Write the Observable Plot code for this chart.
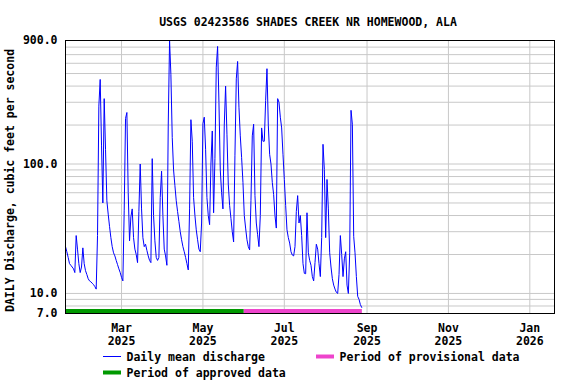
<!DOCTYPE html>
<html><head><meta charset="utf-8">
<script src="https://cdn.jsdelivr.net/npm/d3@7"></script>
<script src="https://cdn.jsdelivr.net/npm/@observablehq/plot@0.6"></script>
<style>
body{margin:0;background:#fff;}
#wrap{position:relative;width:576px;height:384px;}
#wrap svg{position:absolute;left:0;top:0;}
#overlay text{font-family:"DejaVu Sans Mono",monospace;font-weight:bold;font-size:11.5px;fill:#000;}
</style>
</head><body>
<div id="wrap"></div>
<script>
const title = "USGS 02423586 SHADES CREEK NR HOMEWOOD, ALA";
const yLabel = "DAILY Discharge, cubic feet per second";
const seriesLabel = "Daily mean discharge";
const firstDay = "2025-01-18";
const flow = [
23,21,19,17,16.5,16,15.5,14.5,28,22,
17,14.5,16,22.5,17,15,14,13,12.5,12.3,
12,11.7,11.3,10.8,28,280,450,140,50,320,
130,52,41,33,27,23,20.6,19.5,18,16.7,
15.5,14.5,13.3,12.5,44,225,250,60,25.5,39,
45,27,22,20,17.3,43,100,45,27,23,
24,21.5,19.5,18,17.3,110,40,25.5,19,18,
19,55,88,40,22,19.5,16.5,200,900,490,
160,90,68,52,43,36,30,26,23,21,
19,17,15.2,45,220,150,55,40,31,26,
22,21,35,205,230,130,55,40,34,100,
180,42,110,560,810,300,90,60,45,200,
400,170,70,48,38,30,25,117,455,620,
275,165,112,72,40,32,26,23,21.7,52,
165,203,57,35,28.4,23,40,190,150,150,
310,545,200,119,100,72,58,40,32,320,
300,230,190,119,76,48,31,27,24.5,21,
19.8,19.5,23,43,57,35,40,28,17,14.3,
14.2,42,20.6,18,16.5,13.5,12.5,17.3,24,22,
17,13.5,27,142,91,27,76,45,20.6,16,
13,11.6,10.8,10.2,10,14,28,20,13.5,18.5,
21,11.6,10,20.6,260,203,27.6,20.6,13.5,9.5,
9,8.2,7.8
];
const periodLabels = ["Period of approved data", "Period of provisional data"];
const periodStarts = ["2025-01-18", "2025-06-01"];
const periodEnds = ["2025-06-01", "2025-08-28T12:00"];
const periodColors = ["#009900", "#ee44cc"];
const xDomain = ["2025-01-18", "2026-01-19T12:00"];
const xTickDates = ["2025-03-01","2025-05-01","2025-07-01","2025-09-01","2025-11-01","2026-01-01"];
const yDomain = [7, 900];
const yTicks = [7, 10, 100, 900];
const yGrid = [8,9,10,20,30,40,50,60,70,80,90,100,200,300,400,500,600,700,800];

const toDate = s => new Date(s + (s.length > 10 ? "Z" : "T00:00Z"));
const d0 = toDate(firstDay);
const data = flow.map((v, i) => ({date: d3.utcDay.offset(d0, i), flow: v}));
const periods = periodLabels.map((l, i) => ({label: l, start: toDate(periodStarts[i]), end: toDate(periodEnds[i]), color: periodColors[i]}));
const xTicks = xTickDates.map(toDate);

const chart = Plot.plot({
  width: 576, height: 384,
  marginLeft: 65, marginRight: 22, marginTop: 40, marginBottom: 71,
  style: {fontFamily: "DejaVu Sans Mono, monospace", fontWeight: "bold", fontSize: "11.5px", color: "#000", background: "#fff"},
  x: {type: "utc", domain: xDomain.map(toDate), axis: null},
  y: {type: "log", domain: yDomain, axis: null},
  color: {type: "identity"},
  marks: [
    Plot.gridY(yGrid, {stroke: "#c8c8c8", strokeOpacity: 1}),
    Plot.gridX(xTicks, {stroke: "#c8c8c8", strokeOpacity: 1}),
    Plot.ruleY(periods, {y: yDomain[0], x1: "start", x2: "end", stroke: "color", strokeWidth: 4, dy: -2.5}),
    Plot.lineY(data, {x: "date", y: "flow", stroke: "#0000ff", strokeWidth: 1}),
    Plot.frame({stroke: "#000"}),
    Plot.text(yTicks, {y: d => d, text: d => d.toFixed(1), frameAnchor: "left", textAnchor: "end", dx: -8, fontSize: 11.5, fill: "#000"}),
    Plot.text([yLabel], {text: d => d, frameAnchor: "left", textAnchor: "middle", rotate: -90, dx: -55, dy: 3.5, fontSize: 11.5, fill: "#000"}),
    Plot.axisX(xTicks, {tickSize: 0, tickPadding: 9, tickFormat: d => d3.utcFormat("%b")(d) + "\n" + d3.utcFormat("%Y")(d), label: null, lineHeight: 1.15, fontSize: 11.5})
  ]
});
const wrap = document.getElementById("wrap");
wrap.appendChild(chart);

// overlay: title and legend
const ov = d3.select(wrap).append("svg").attr("id", "overlay").attr("width", 576).attr("height", 384).style("pointer-events", "none");
ov.append("text").attr("x", 308).attr("y", 26.4).attr("text-anchor", "middle").text(title);
const legendItems = [
  {label: seriesLabel, color: "#0000ff", w: 1, x: 103, y: 356.5},
  {label: periodLabels[1], color: periodColors[1], w: 4, x: 316, y: 356.5},
  {label: periodLabels[0], color: periodColors[0], w: 4, x: 103, y: 372.5}
];
for (const it of legendItems) {
  ov.append("line").attr("x1", it.x).attr("x2", it.x + 18).attr("y1", it.y).attr("y2", it.y).attr("stroke", it.color).attr("stroke-width", it.w);
  ov.append("text").attr("x", it.x + 23.5).attr("y", it.y + 4.3).text(it.label);
}
</script>
</body></html>
